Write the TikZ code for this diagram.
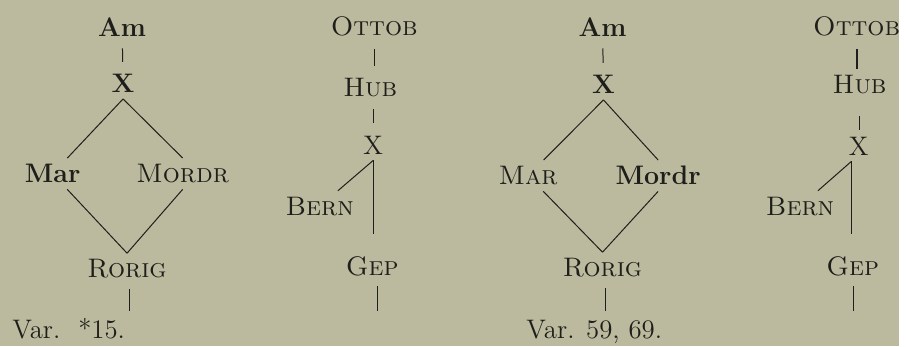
\documentclass[tikz,border=0pt]{standalone}
\definecolor{paper}{RGB}{187,186,158}
\definecolor{ink}{RGB}{30,30,26}
\begin{document}
\begin{tikzpicture}[x=0.5pt, y=-0.5pt,
  wit/.style={font=\fontsize{13.5}{15}\selectfont, text=ink, inner sep=3pt},
  bwit/.style={wit, font=\fontsize{13.5}{15}\selectfont\bfseries},
  scwit/.style={wit, font=\fontsize{13.5}{15}\selectfont\scshape},
  varlbl/.style={wit, anchor=base west, inner sep=0pt},
  link/.style={draw=ink, line width=0.5pt},
  vlink/.style={link, shorten <=3pt, shorten >=3pt},
]
\fill[paper] (0,0) rectangle (906,349);

\node[bwit]  (am1)    at (123,27)  {Am};
\node[bwit]  (x1)     at (124,84)  {X};
\node[bwit]  (mar1)   at (53,175)  {Mar};
\node[scwit] (mordr1) at (184,175) {Mordr};
\node[scwit] (rorig1) at (128,271) {Rorig};
\coordinate  (end1)   at (130,313);
\node[varlbl] (var1)  at (12,341)  {Var.\hspace{9pt}*15.};

\draw[vlink] (am1) -- (x1);
\draw[link] (x1.south) -- (mar1);
\draw[link] (x1.south) -- (mordr1.north);
\draw[link] (mar1) -- (rorig1.north);
\draw[link] (mordr1.south) -- (rorig1.north);
\draw[link, shorten <=2pt] (end1 |- rorig1.south) -- (end1);

\node[scwit] (ottob1) at (377,27)  {Ottob};
\node[scwit] (hub1)   at (373,88)  {Hub};
\node[wit]   (x2)     at (376,146) {X};
\node[scwit] (bern1)  at (322,208) {Bern};
\node[scwit] (gep1)   at (375,268) {Gep};
\coordinate  (end2)   at (380,313);

\draw[vlink] (ottob1.south) -- (ottob1.south |- hub1.north);
\draw[vlink] (x2.north |- hub1.south) -- (x2.north);
\draw[link] (x2.south) -- (bern1);
\draw[link, shorten >=8pt] (x2.south) -- (x2.south |- gep1.north);
\draw[link, shorten <=2pt] (end2 |- gep1.south) -- (end2);

\node[bwit]  (am2)    at (607,27)  {Am};
\node[bwit]  (x3)     at (608,85)  {X};
\node[scwit] (mar2)   at (532,177) {Mar};
\node[bwit]  (mordr2) at (663,177) {Mordr};
\node[scwit] (rorig2) at (607,270) {Rorig};
\coordinate  (end3)   at (610,313);
\node[varlbl] (var2)  at (530,341) {Var. 59, 69.};

\draw[vlink] (am2) -- (x3);
\draw[link] (x3.south) -- (mar2);
\draw[link] (x3.south) -- (mordr2.north);
\draw[link] (mar2) -- (rorig2.north);
\draw[link] (mordr2.south) -- (rorig2.north);
\draw[link, shorten <=2pt] (end3 |- rorig2.south) -- (end3);

\node[scwit] (ottob2) at (863,27)  {Ottob};
\node[scwit] (hub2)   at (866,85)  {Hub};
\node[wit]   (x4)     at (865,147) {X};
\node[scwit] (bern2)  at (806,208) {Bern};
\node[scwit] (gep2)   at (859,268) {Gep};
\coordinate  (end4)   at (860,313);

\draw[link, line width=0.9pt, shorten <=3pt] (ottob2.south) -- (ottob2.south |- hub2.north);
\draw[link, shorten <=8pt] (hub2.south) -- (hub2.south |- x4.north);
\draw[link] (x4.-115) -- (bern2);
\draw[link, shorten >=8pt] (x4.-115) -- (x4.-115 |- gep2.north);
\draw[link, shorten <=2pt] (end4 |- gep2.south) -- (end4);
\end{tikzpicture}
\end{document}
